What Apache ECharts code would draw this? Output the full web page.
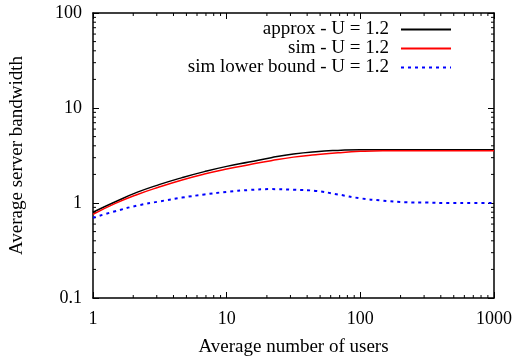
<!DOCTYPE html>
<html>
<head>
<meta charset="utf-8">
<script src="https://cdn.jsdelivr.net/npm/echarts@6/dist/echarts.min.js"></script>
<style>
  html, body { margin: 0; padding: 0; background: #fff; }
  #chart { width: 517px; height: 357px; }
</style>
</head>
<body>
<div id="chart"></div>
<script>
// x values (average number of users), about six per decade
const users = [1, 1.47, 2.15, 3.16, 4.64, 6.81, 10, 14.7, 21.5, 31.6, 46.4, 68.1, 100, 147, 215, 316, 464, 681, 1000]
// series
const approx = [0.80, 1.03, 1.30, 1.57, 1.85, 2.14, 2.43, 2.70, 3.0, 3.28, 3.47, 3.58, 3.64, 3.64, 3.64, 3.64, 3.64, 3.64, 3.64]
const sim = [0.76, 0.99, 1.23, 1.48, 1.75, 2.02, 2.28, 2.53, 2.79, 3.04, 3.22, 3.38, 3.50, 3.55, 3.55, 3.55, 3.55, 3.55, 3.55]
const lowerBound = [0.70, 0.82, 0.94, 1.04, 1.14, 1.23, 1.31, 1.37, 1.40, 1.38, 1.34, 1.23, 1.12, 1.06, 1.02, 1.01, 1.0, 1.0, 1.0]
const seriesNames = ['approx - U = 1.2', 'sim - U = 1.2', 'sim lower bound - U = 1.2']

const xMin = 1
const xMax = 1000
const yMin = 0.1
const yMax = 100

// minor ticks 2..9 inside each decade
function minorTicks(lo, hi) {
  const out = []
  for (let d = lo; d < hi; d *= 10) {
    for (let k = 2; k <= 9; k++) out.push(+(d * k).toPrecision(6))
  }
  return out
}
const minorX = minorTicks(xMin, xMax)
const minorY = minorTicks(yMin, yMax)

const font = 'Liberation Serif'
const tickSize = 18
const titleSize = 19

function pair(xs, ys) {
  return xs.map((x, i) => [x, ys[i]])
}

function fmt(v) {
  return String(+v.toPrecision(6))
}

function logAxis(min, max, extra) {
  return Object.assign({
    type: 'log',
    logBase: 10,
    min: min,
    max: max,
    axisLine: { show: true, lineStyle: { color: '#000', width: 1.5 } },
    axisTick: { show: true, inside: true, length: 6, lineStyle: { color: '#000', width: 1 } },
    splitLine: { show: false },
    minorTick: { show: false }
  }, extra)
}

const chart = echarts.init(document.getElementById('chart'))
const option = {
  backgroundColor: '#fff',
  animation: false,
  grid: { left: 93, right: 23, top: 13, bottom: 59, outerBoundsMode: 'none', containLabel: false },
  legend: {
    data: seriesNames,
    orient: 'vertical',
    align: 'right',
    right: 65,
    top: 20,
    padding: 0,
    itemWidth: 50,
    itemHeight: 12,
    itemGap: 0,
    itemStyle: { opacity: 0 },
    textStyle: {
      color: '#000',
      fontFamily: font,
      fontSize: titleSize,
      lineHeight: 19,
      padding: [0, 7, 0, 0]
    }
  },
  xAxis: [
    logAxis(xMin, xMax, {
      position: 'bottom',
      name: 'Average number of users',
      nameLocation: 'middle',
      nameGap: 40,
      nameTextStyle: { color: '#000', fontFamily: font, fontSize: titleSize },
      axisLabel: { color: '#000', fontFamily: font, fontSize: tickSize, margin: 12, formatter: fmt }
    }),
    logAxis(xMin, xMax, { position: 'top', axisLabel: { show: false } })
  ],
  yAxis: [
    logAxis(yMin, yMax, {
      position: 'left',
      name: 'Average server bandwidth',
      nameLocation: 'middle',
      nameGap: 66,
      nameTextStyle: { color: '#000', fontFamily: font, fontSize: titleSize },
      axisLabel: { color: '#000', fontFamily: font, fontSize: tickSize, margin: 11, formatter: fmt }
    }),
    logAxis(yMin, yMax, { position: 'right', axisLabel: { show: false } })
  ],
  series: [
    {
      name: seriesNames[0],
      type: 'line',
      smooth: true,
      symbol: 'none',
      lineStyle: { color: '#000', width: 1.5 },
      itemStyle: { color: '#000' },
      data: pair(users, approx)
    },
    {
      name: seriesNames[1],
      type: 'line',
      smooth: true,
      symbol: 'none',
      lineStyle: { color: '#ff0000', width: 1.5 },
      itemStyle: { color: '#ff0000' },
      data: pair(users, sim)
    },
    {
      name: seriesNames[2],
      type: 'line',
      smooth: true,
      symbol: 'none',
      lineStyle: { color: '#0000ff', width: 2, type: [3, 4] },
      itemStyle: { color: '#0000ff' },
      data: pair(users, lowerBound)
    },
    {
      // minor ticks on bottom and top axes
      type: 'custom',
      silent: true,
      data: minorX.map(v => [v, 1]),
      renderItem: function (params, api) {
        const v = api.value(0)
        const b = api.coord([v, yMin])
        const t = api.coord([v, yMax])
        return {
          type: 'group',
          children: [
            { type: 'line', shape: { x1: b[0], y1: b[1], x2: b[0], y2: b[1] - 3 }, style: { stroke: '#000', lineWidth: 1 } },
            { type: 'line', shape: { x1: t[0], y1: t[1], x2: t[0], y2: t[1] + 3 }, style: { stroke: '#000', lineWidth: 1 } }
          ]
        }
      }
    },
    {
      // minor ticks on left and right axes
      type: 'custom',
      silent: true,
      data: minorY.map(v => [1, v]),
      renderItem: function (params, api) {
        const v = api.value(1)
        const l = api.coord([xMin, v])
        const r = api.coord([xMax, v])
        return {
          type: 'group',
          children: [
            { type: 'line', shape: { x1: l[0], y1: l[1], x2: l[0] + 3, y2: l[1] }, style: { stroke: '#000', lineWidth: 1 } },
            { type: 'line', shape: { x1: r[0], y1: r[1], x2: r[0] - 3, y2: r[1] }, style: { stroke: '#000', lineWidth: 1 } }
          ]
        }
      }
    }
  ]
}
chart.setOption(option)
</script>
</body>
</html>
